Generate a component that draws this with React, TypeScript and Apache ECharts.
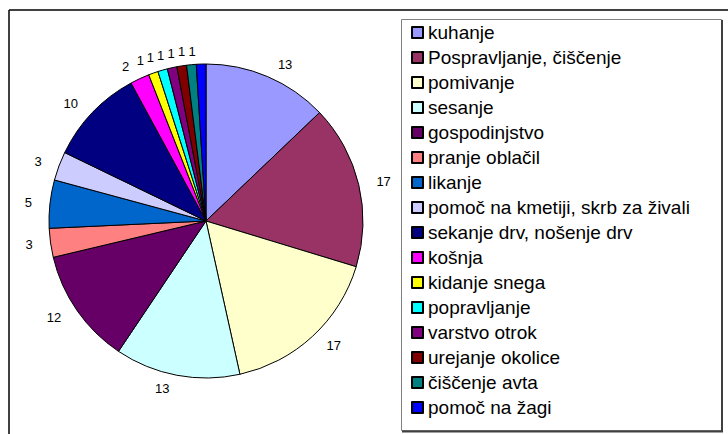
import React, { useEffect, useRef } from "react";
import * as echarts from "echarts";

const categories = [
  "kuhanje",
  "Pospravljanje, čiščenje",
  "pomivanje",
  "sesanje",
  "gospodinjstvo",
  "pranje oblačil",
  "likanje",
  "pomoč na kmetiji, skrb za živali",
  "sekanje drv, nošenje drv",
  "košnja",
  "kidanje snega",
  "popravljanje",
  "varstvo otrok",
  "urejanje okolice",
  "čiščenje avta",
  "pomoč na žagi",
];
const values = [13, 17, 17, 13, 12, 3, 5, 3, 10, 2, 1, 1, 1, 1, 1, 1];
const colors = [
  "#9999FF", "#993366", "#FFFFCC", "#CCFFFF", "#660066", "#FF8080", "#0066CC", "#CCCCFF",
  "#000080", "#FF00FF", "#FFFF00", "#00FFFF", "#800080", "#800000", "#008080", "#0000FF",
];

export default function App() {
  const ref = useRef<HTMLDivElement>(null);
  useEffect(() => {
    if (!ref.current) return;
    const chart = echarts.init(ref.current, null, { renderer: "svg" });
    chart.setOption({
      animation: false,
      backgroundColor: "#ffffff",
      color: colors,
      textStyle: { fontFamily: "Liberation Sans, Arial, sans-serif" },
      graphic: [
        { type: "line", shape: { x1: 9, y1: 10, x2: 728, y2: 10 }, style: { stroke: "#000", lineWidth: 1.5 } },
        { type: "line", shape: { x1: 9, y1: 10, x2: 9, y2: 434 }, style: { stroke: "#000", lineWidth: 1.5 } },
        { type: "rect", shape: { x: 401.5, y: 19.5, width: 320, height: 411 }, style: { fill: "#fff", stroke: "#808080", lineWidth: 1 }, z: -1 },
        { type: "line", shape: { x1: 722, y1: 20, x2: 722, y2: 432 }, style: { stroke: "#404040", lineWidth: 2 }, z: -1 },
        { type: "line", shape: { x1: 402, y1: 431.5, x2: 723, y2: 431.5 }, style: { stroke: "#404040", lineWidth: 2 }, z: -1 },
      ],
      legend: {
        orient: "vertical",
        left: 411,
        top: 23,
        height: 410,
        icon: "rect",
        itemWidth: 11,
        itemHeight: 11,
        itemGap: 6,
        padding: 0,
        textStyle: { fontSize: 19, color: "#000", lineHeight: 19, fontFamily: "Liberation Sans, Arial, sans-serif" },
        data: categories,
      },
      series: [
        {
          type: "pie",
          center: [206, 221],
          radius: 157,
          startAngle: 90,
          clockwise: true,
          avoidLabelOverlap: false,
          itemStyle: { borderColor: "#000", borderWidth: 1 },
          label: {
            show: true,
            position: "outside",
            formatter: "{c}",
            fontSize: 13,
            color: "#000",
            fontFamily: "Liberation Sans, Arial, sans-serif",
          },
          labelLine: { show: false, length: 13, length2: 0 },
          emphasis: { disabled: true },
          data: categories.map((name, i) => ({ name, value: values[i] })),
        },
      ],
    });
    return () => chart.dispose();
  }, []);
  return <div ref={ref} style={{ width: 728, height: 434, position: "absolute", left: 0, top: 0 }} />;
}
